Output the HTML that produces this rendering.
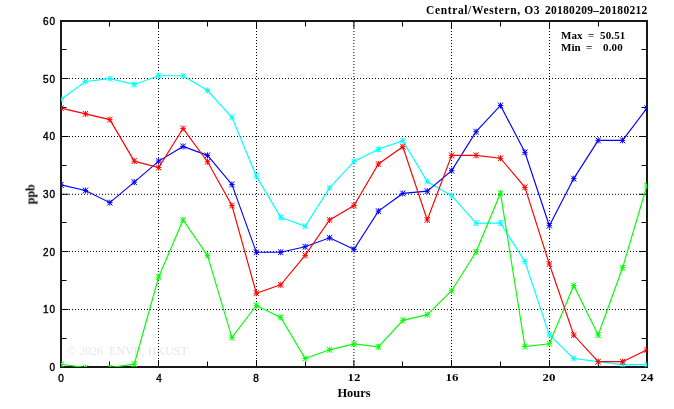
<!DOCTYPE html>
<html><head><meta charset="utf-8"><title>chart</title>
<style>
html,body{margin:0;padding:0;background:#fff;}
body{width:674px;height:409px;position:relative;overflow:hidden;font-family:"Liberation Serif",serif;color:#000;}
.t,.yl,.xl{will-change:transform;}
.t{position:absolute;white-space:pre;font-weight:bold;line-height:12px;}
.yl{position:absolute;left:20px;width:35.9px;text-align:right;font-family:"Liberation Sans",sans-serif;font-size:10px;line-height:12px;height:12px;-webkit-text-stroke:0.4px #000;letter-spacing:0.9px;}
.xl{position:absolute;top:371px;transform:scaleX(1.17);width:30px;text-align:center;font-family:"Liberation Serif",serif;font-weight:bold;font-size:11px;line-height:12px;height:12px;}
.xl.s{top:373px;transform:none;font-family:"Liberation Sans",sans-serif;font-weight:normal;font-size:10px;-webkit-text-stroke:0.4px #000;}
</style></head><body>
<div class="t" id="wm" style="left:67px;top:345px;font-size:12px;font-weight:normal;color:#e7e7e7;">&#169; 2026  ENVR, HKUST</div>
<svg width="674" height="409" viewBox="0 0 674 409" style="position:absolute;left:0;top:0"><defs><clipPath id="c"><rect x="61" y="21" width="586" height="346"/></clipPath></defs><path d="M158.5 21V367M256.5 21V367M353.9 21V367M451.5 21V367M549.5 21V367" stroke="#000" stroke-width="1" stroke-dasharray="1 2" stroke-dashoffset="2" fill="none"/><path d="M61 309.5H647M61 251.5H647M61 194.3H647M61 136.5H647M61 78.5H647" stroke="#000" stroke-width="1" stroke-dasharray="1 2" stroke-dashoffset="1" fill="none"/><path d="M109.5 21v5.5M109.5 367v-5.5M207.5 21v5.5M207.5 367v-5.5M305.5 21v5.5M305.5 367v-5.5M402.5 21v5.5M402.5 367v-5.5M500.5 21v5.5M500.5 367v-5.5M598.5 21v5.5M598.5 367v-5.5M61 338.5h5.5M647 338.5h-5.5M61 280.5h5.5M647 280.5h-5.5M61 222.5h5.5M647 222.5h-5.5M61 165.5h5.5M647 165.5h-5.5M61 107.5h5.5M647 107.5h-5.5M61 49.5h5.5M647 49.5h-5.5M158.5 21v7M158.5 367v-7M256.5 21v7M256.5 367v-7M353.9 21v7M353.9 367v-7M451.5 21v7M451.5 367v-7M549.5 21v7M549.5 367v-7M61 309.5h7.5M647 309.5h-7.5M61 251.5h7.5M647 251.5h-7.5M61 194.3h7.5M647 194.3h-7.5M61 136.5h7.5M647 136.5h-7.5M61 78.5h7.5M647 78.5h-7.5" stroke="#000" stroke-width="1" fill="none"/><rect x="61" y="21" width="586" height="346" fill="none" stroke="#181818" stroke-width="2"/><g clip-path="url(#c)"><g stroke="#00ffff" stroke-width="1.15" fill="none"><polyline points="61.00,99.43 85.42,81.55 109.83,78.67 134.25,84.43 158.67,75.73 183.08,75.73 207.50,90.49 231.92,117.30 256.33,176.12 280.75,217.36 305.17,226.29 329.58,187.94 354.00,161.42 378.42,149.31 402.83,140.60 427.25,181.60 451.67,195.73 476.08,223.12 500.50,223.01 524.92,261.47 549.33,334.82 573.75,358.47 598.17,361.69 622.58,364.69 647.00,364.69"/><path d="M58.30 99.43H63.70M61.00 96.43V102.43M58.40 96.53L63.60 102.33M58.40 102.33L63.60 96.53M82.72 81.55H88.12M85.42 78.55V84.55M82.82 78.65L88.02 84.45M82.82 84.45L88.02 78.65M107.13 78.67H112.53M109.83 75.67V81.67M107.23 75.77L112.43 81.57M107.23 81.57L112.43 75.77M131.55 84.43H136.95M134.25 81.43V87.43M131.65 81.53L136.85 87.33M131.65 87.33L136.85 81.53M155.97 75.73H161.37M158.67 72.73V78.73M156.07 72.83L161.27 78.63M156.07 78.63L161.27 72.83M180.38 75.73H185.78M183.08 72.73V78.73M180.48 72.83L185.68 78.63M180.48 78.63L185.68 72.83M204.80 90.49H210.20M207.50 87.49V93.49M204.90 87.59L210.10 93.39M204.90 93.39L210.10 87.59M229.22 117.30H234.62M231.92 114.30V120.30M229.32 114.40L234.52 120.20M229.32 120.20L234.52 114.40M253.63 176.12H259.03M256.33 173.12V179.12M253.73 173.22L258.93 179.02M253.73 179.02L258.93 173.22M278.05 217.36H283.45M280.75 214.36V220.36M278.15 214.46L283.35 220.26M278.15 220.26L283.35 214.46M302.47 226.29H307.87M305.17 223.29V229.29M302.57 223.39L307.77 229.19M302.57 229.19L307.77 223.39M326.88 187.94H332.28M329.58 184.94V190.94M326.98 185.04L332.18 190.84M326.98 190.84L332.18 185.04M351.30 161.42H356.70M354.00 158.42V164.42M351.40 158.52L356.60 164.32M351.40 164.32L356.60 158.52M375.72 149.31H381.12M378.42 146.31V152.31M375.82 146.41L381.02 152.21M375.82 152.21L381.02 146.41M400.13 140.60H405.53M402.83 137.60V143.60M400.23 137.70L405.43 143.50M400.23 143.50L405.43 137.70M424.55 181.60H429.95M427.25 178.60V184.60M424.65 178.70L429.85 184.50M424.65 184.50L429.85 178.70M448.97 195.73H454.37M451.67 192.73V198.73M449.07 192.83L454.27 198.63M449.07 198.63L454.27 192.83M473.38 223.12H478.78M476.08 220.12V226.12M473.48 220.22L478.68 226.02M473.48 226.02L478.68 220.22M497.80 223.01H503.20M500.50 220.01V226.01M497.90 220.11L503.10 225.91M497.90 225.91L503.10 220.11M522.22 261.47H527.62M524.92 258.47V264.47M522.32 258.57L527.52 264.37M522.32 264.37L527.52 258.57M546.63 334.82H552.03M549.33 331.82V337.82M546.73 331.92L551.93 337.72M546.73 337.72L551.93 331.92M571.05 358.47H576.45M573.75 355.47V361.47M571.15 355.57L576.35 361.37M571.15 361.37L576.35 355.57M595.47 361.69H600.87M598.17 358.69V364.69M595.57 358.79L600.77 364.59M595.57 364.59L600.77 358.79M619.88 364.69H625.28M622.58 361.69V367.69M619.98 361.79L625.18 367.59M619.98 367.59L625.18 361.79M644.30 364.69H649.70M647.00 361.69V367.69M644.40 361.79L649.60 367.59M644.40 367.59L649.60 361.79" stroke-width="1"/></g><g stroke="#0000ff" stroke-width="1.15" fill="none"><polyline points="61.00,184.89 85.42,190.54 109.83,202.65 134.25,182.12 158.67,161.13 183.08,146.43 207.50,155.36 231.92,184.43 256.33,252.24 280.75,252.24 305.17,246.71 329.58,237.83 354.00,249.36 378.42,211.13 402.83,193.42 427.25,191.12 451.67,170.65 476.08,131.72 500.50,105.48 524.92,152.31 549.33,225.72 573.75,178.60 598.17,140.37 622.58,140.37 647.00,108.08"/><path d="M58.30 184.89H63.70M61.00 181.89V187.89M58.40 181.99L63.60 187.79M58.40 187.79L63.60 181.99M82.72 190.54H88.12M85.42 187.54V193.54M82.82 187.64L88.02 193.44M82.82 193.44L88.02 187.64M107.13 202.65H112.53M109.83 199.65V205.65M107.23 199.75L112.43 205.55M107.23 205.55L112.43 199.75M131.55 182.12H136.95M134.25 179.12V185.12M131.65 179.22L136.85 185.02M131.65 185.02L136.85 179.22M155.97 161.13H161.37M158.67 158.13V164.13M156.07 158.23L161.27 164.03M156.07 164.03L161.27 158.23M180.38 146.43H185.78M183.08 143.43V149.43M180.48 143.53L185.68 149.33M180.48 149.33L185.68 143.53M204.80 155.36H210.20M207.50 152.36V158.36M204.90 152.46L210.10 158.26M204.90 158.26L210.10 152.46M229.22 184.43H234.62M231.92 181.43V187.43M229.32 181.53L234.52 187.33M229.32 187.33L234.52 181.53M253.63 252.24H259.03M256.33 249.24V255.24M253.73 249.34L258.93 255.14M253.73 255.14L258.93 249.34M278.05 252.24H283.45M280.75 249.24V255.24M278.15 249.34L283.35 255.14M278.15 255.14L283.35 249.34M302.47 246.71H307.87M305.17 243.71V249.71M302.57 243.81L307.77 249.61M302.57 249.61L307.77 243.81M326.88 237.83H332.28M329.58 234.83V240.83M326.98 234.93L332.18 240.73M326.98 240.73L332.18 234.93M351.30 249.36H356.70M354.00 246.36V252.36M351.40 246.46L356.60 252.26M351.40 252.26L356.60 246.46M375.72 211.13H381.12M378.42 208.13V214.13M375.82 208.23L381.02 214.03M375.82 214.03L381.02 208.23M400.13 193.42H405.53M402.83 190.42V196.42M400.23 190.52L405.43 196.32M400.23 196.32L405.43 190.52M424.55 191.12H429.95M427.25 188.12V194.12M424.65 188.22L429.85 194.02M424.65 194.02L429.85 188.22M448.97 170.65H454.37M451.67 167.65V173.65M449.07 167.75L454.27 173.55M449.07 173.55L454.27 167.75M473.38 131.72H478.78M476.08 128.72V134.72M473.48 128.82L478.68 134.62M473.48 134.62L478.68 128.82M497.80 105.48H503.20M500.50 102.48V108.48M497.90 102.58L503.10 108.38M497.90 108.38L503.10 102.58M522.22 152.31H527.62M524.92 149.31V155.31M522.32 149.41L527.52 155.21M522.32 155.21L527.52 149.41M546.63 225.72H552.03M549.33 222.72V228.72M546.73 222.82L551.93 228.62M546.73 228.62L551.93 222.82M571.05 178.60H576.45M573.75 175.60V181.60M571.15 175.70L576.35 181.50M571.15 181.50L576.35 175.70M595.47 140.37H600.87M598.17 137.37V143.37M595.57 137.47L600.77 143.27M595.57 143.27L600.77 137.47M619.88 140.37H625.28M622.58 137.37V143.37M619.98 137.47L625.18 143.27M619.98 143.27L625.18 137.47M644.30 108.08H649.70M647.00 105.08V111.08M644.40 105.18L649.60 110.98M644.40 110.98L649.60 105.18" stroke-width="1"/></g><g stroke="#00ff00" stroke-width="1.15" fill="none"><polyline points="61.00,364.23 85.42,367.58 109.83,367.58 134.25,364.12 158.67,277.04 183.08,219.95 207.50,255.41 231.92,337.59 256.33,305.41 280.75,317.41 305.17,358.52 329.58,349.82 354.00,343.93 378.42,346.82 402.83,320.35 427.25,314.64 451.67,290.71 476.08,251.78 500.50,193.19 524.92,346.53 549.33,343.76 573.75,285.46 598.17,335.05 622.58,267.81 647.00,185.18"/><path d="M58.30 364.23H63.70M61.00 361.23V367.23M58.40 361.33L63.60 367.13M58.40 367.13L63.60 361.33M82.72 367.58H88.12M85.42 364.58V370.58M82.82 364.68L88.02 370.48M82.82 370.48L88.02 364.68M107.13 367.58H112.53M109.83 364.58V370.58M107.23 364.68L112.43 370.48M107.23 370.48L112.43 364.68M131.55 364.12H136.95M134.25 361.12V367.12M131.65 361.22L136.85 367.02M131.65 367.02L136.85 361.22M155.97 277.04H161.37M158.67 274.04V280.04M156.07 274.14L161.27 279.94M156.07 279.94L161.27 274.14M180.38 219.95H185.78M183.08 216.95V222.95M180.48 217.05L185.68 222.85M180.48 222.85L185.68 217.05M204.80 255.41H210.20M207.50 252.41V258.41M204.90 252.51L210.10 258.31M204.90 258.31L210.10 252.51M229.22 337.59H234.62M231.92 334.59V340.59M229.32 334.69L234.52 340.49M229.32 340.49L234.52 334.69M253.63 305.41H259.03M256.33 302.41V308.41M253.73 302.51L258.93 308.31M253.73 308.31L258.93 302.51M278.05 317.41H283.45M280.75 314.41V320.41M278.15 314.51L283.35 320.31M278.15 320.31L283.35 314.51M302.47 358.52H307.87M305.17 355.52V361.52M302.57 355.62L307.77 361.42M302.57 361.42L307.77 355.62M326.88 349.82H332.28M329.58 346.82V352.82M326.98 346.92L332.18 352.72M326.98 352.72L332.18 346.92M351.30 343.93H356.70M354.00 340.93V346.93M351.40 341.03L356.60 346.83M351.40 346.83L356.60 341.03M375.72 346.82H381.12M378.42 343.82V349.82M375.82 343.92L381.02 349.72M375.82 349.72L381.02 343.92M400.13 320.35H405.53M402.83 317.35V323.35M400.23 317.45L405.43 323.25M400.23 323.25L405.43 317.45M424.55 314.64H429.95M427.25 311.64V317.64M424.65 311.74L429.85 317.54M424.65 317.54L429.85 311.74M448.97 290.71H454.37M451.67 287.71V293.71M449.07 287.81L454.27 293.61M449.07 293.61L454.27 287.81M473.38 251.78H478.78M476.08 248.78V254.78M473.48 248.88L478.68 254.68M473.48 254.68L478.68 248.88M497.80 193.19H503.20M500.50 190.19V196.19M497.90 190.29L503.10 196.09M497.90 196.09L503.10 190.29M522.22 346.53H527.62M524.92 343.53V349.53M522.32 343.63L527.52 349.43M522.32 349.43L527.52 343.63M546.63 343.76H552.03M549.33 340.76V346.76M546.73 340.86L551.93 346.66M546.73 346.66L551.93 340.86M571.05 285.46H576.45M573.75 282.46V288.46M571.15 282.56L576.35 288.36M571.15 288.36L576.35 282.56M595.47 335.05H600.87M598.17 332.05V338.05M595.57 332.15L600.77 337.95M595.57 337.95L600.77 332.15M619.88 267.81H625.28M622.58 264.81V270.81M619.98 264.91L625.18 270.71M619.98 270.71L625.18 264.91M644.30 185.18H649.70M647.00 182.18V188.18M644.40 182.28L649.60 188.08M644.40 188.08L649.60 182.28" stroke-width="1"/></g><g stroke="#ff0000" stroke-width="1.15" fill="none"><polyline points="61.00,108.08 85.42,113.84 109.83,119.61 134.25,161.13 158.67,167.47 183.08,128.55 207.50,161.71 231.92,205.53 256.33,293.19 280.75,284.88 305.17,255.41 329.58,219.95 354.00,205.53 378.42,164.01 402.83,146.71 427.25,219.95 451.67,155.36 476.08,155.36 500.50,158.25 524.92,187.37 549.33,264.01 573.75,335.05 598.17,361.69 622.58,361.69 647.00,349.76"/><path d="M58.30 108.08H63.70M61.00 105.08V111.08M58.40 105.18L63.60 110.98M58.40 110.98L63.60 105.18M82.72 113.84H88.12M85.42 110.84V116.84M82.82 110.94L88.02 116.74M82.82 116.74L88.02 110.94M107.13 119.61H112.53M109.83 116.61V122.61M107.23 116.71L112.43 122.51M107.23 122.51L112.43 116.71M131.55 161.13H136.95M134.25 158.13V164.13M131.65 158.23L136.85 164.03M131.65 164.03L136.85 158.23M155.97 167.47H161.37M158.67 164.47V170.47M156.07 164.57L161.27 170.37M156.07 170.37L161.27 164.57M180.38 128.55H185.78M183.08 125.55V131.55M180.48 125.65L185.68 131.45M180.48 131.45L185.68 125.65M204.80 161.71H210.20M207.50 158.71V164.71M204.90 158.81L210.10 164.61M204.90 164.61L210.10 158.81M229.22 205.53H234.62M231.92 202.53V208.53M229.32 202.63L234.52 208.43M229.32 208.43L234.52 202.63M253.63 293.19H259.03M256.33 290.19V296.19M253.73 290.29L258.93 296.09M253.73 296.09L258.93 290.29M278.05 284.88H283.45M280.75 281.88V287.88M278.15 281.98L283.35 287.78M278.15 287.78L283.35 281.98M302.47 255.41H307.87M305.17 252.41V258.41M302.57 252.51L307.77 258.31M302.57 258.31L307.77 252.51M326.88 219.95H332.28M329.58 216.95V222.95M326.98 217.05L332.18 222.85M326.98 222.85L332.18 217.05M351.30 205.53H356.70M354.00 202.53V208.53M351.40 202.63L356.60 208.43M351.40 208.43L356.60 202.63M375.72 164.01H381.12M378.42 161.01V167.01M375.82 161.11L381.02 166.91M375.82 166.91L381.02 161.11M400.13 146.71H405.53M402.83 143.71V149.71M400.23 143.81L405.43 149.61M400.23 149.61L405.43 143.81M424.55 219.95H429.95M427.25 216.95V222.95M424.65 217.05L429.85 222.85M424.65 222.85L429.85 217.05M448.97 155.36H454.37M451.67 152.36V158.36M449.07 152.46L454.27 158.26M449.07 158.26L454.27 152.46M473.38 155.36H478.78M476.08 152.36V158.36M473.48 152.46L478.68 158.26M473.48 158.26L478.68 152.46M497.80 158.25H503.20M500.50 155.25V161.25M497.90 155.35L503.10 161.15M497.90 161.15L503.10 155.35M522.22 187.37H527.62M524.92 184.37V190.37M522.32 184.47L527.52 190.27M522.32 190.27L527.52 184.47M546.63 264.01H552.03M549.33 261.01V267.01M546.73 261.11L551.93 266.91M546.73 266.91L551.93 261.11M571.05 335.05H576.45M573.75 332.05V338.05M571.15 332.15L576.35 337.95M571.15 337.95L576.35 332.15M595.47 361.69H600.87M598.17 358.69V364.69M595.57 358.79L600.77 364.59M595.57 364.59L600.77 358.79M619.88 361.69H625.28M622.58 358.69V364.69M619.98 358.79L625.18 364.59M619.98 364.59L625.18 358.79M644.30 349.76H649.70M647.00 346.76V352.76M644.40 346.86L649.60 352.66M644.40 352.66L649.60 346.86" stroke-width="1"/></g></g></svg>
<div class="t" id="title" style="left:425.7px;top:4px;font-size:11.5px;letter-spacing:0.63px">Central/Western, O3</div>
<div class="t" id="title2" style="left:545px;top:4px;font-size:11.5px;letter-spacing:0.28px">20180209&#8211;20180212</div>
<div class="t" id="max" style="left:561.3px;top:29.1px;font-size:11px;">Max</div>
<div class="t" style="left:587.8px;top:29.1px;font-size:11px;">=</div>
<div class="t" style="left:600.4px;top:29.1px;font-size:11px;letter-spacing:0.15px">50.51</div>
<div class="t" id="min" style="left:561.3px;top:40.6px;font-size:11px;">Min</div>
<div class="t" style="left:585.8px;top:40.6px;font-size:11px;">=</div>
<div class="t" style="left:603.3px;top:40.6px;font-size:11px;letter-spacing:0.15px">0.00</div>
<div class="t" id="hours" style="left:324px;width:60px;text-align:center;top:387px;font-size:12.4px;">Hours</div>
<div class="t" id="ppb" style="left:0;top:0;font-size:12px;transform-origin:0 0;transform:translate(24.5px,204.3px) rotate(-90deg);">ppb</div>
<div class="yl" style="top:362.1px">0</div><div class="yl" style="top:304.4px">10</div><div class="yl" style="top:246.8px">20</div><div class="yl" style="top:189.1px">30</div><div class="yl" style="top:131.4px">40</div><div class="yl" style="top:73.8px">50</div><div class="yl" style="top:16.1px">60</div>
<div class="xl s" style="left:46.0px">0</div><div class="xl s" style="left:143.7px">4</div><div class="xl s" style="left:241.3px">8</div><div class="xl" style="left:338.8px">12</div><div class="xl" style="left:436.5px">16</div><div class="xl" style="left:534.1px">20</div><div class="xl" style="left:631.8px">24</div>
</body></html>
